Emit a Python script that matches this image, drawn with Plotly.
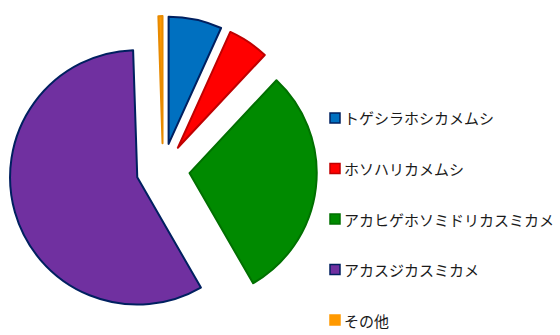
import plotly.graph_objects as go

# Species counts
labels = ["トゲシラホシカメムシ", "ホソハリカメムシ", "アカヒゲホソミドリカスミカメ", "アカスジカスミカメ", "その他"]
counts = [13, 10, 57, 111, 1]
fill_colors = ["#0070C0", "#FF0000", "#008A00", "#7030A0", "#FF9900"]
edge_colors = ["#002060", "#C00000", "#007000", "#002060", "#E88A00"]

fig = go.Figure(
    go.Pie(
        labels=labels,
        values=counts,
        sort=False,
        direction="clockwise",
        rotation=0,
        pull=[0.21] * len(counts),
        textinfo="none",
        hoverinfo="label+value+percent",
        marker=dict(colors=fill_colors, line=dict(color=edge_colors, width=2)),
        domain=dict(x=[0.016, 0.566], y=[0.033, 0.952]),
        showlegend=False,
    )
)

# Legend drawn as colour swatches with text labels
font_family = "Noto Sans CJK JP"
top_y, step = 118, 50.5
shapes, annotations = [], []
for i, (lab, fc, ec) in enumerate(zip(labels, fill_colors, edge_colors)):
    cy = top_y + i * step
    shapes.append(dict(
        type="rect", xref="paper", yref="paper",
        x0=330 / 560, x1=340 / 560,
        y0=1 - (cy + 5) / 335, y1=1 - (cy - 5) / 335,
        fillcolor=fc, line=dict(color=ec if i != 4 else fc, width=1.5),
    ))
    annotations.append(dict(
        text=lab, xref="paper", yref="paper",
        x=342 / 560, y=1 - cy / 335,
        xanchor="left", yanchor="middle", showarrow=False,
        font=dict(family=font_family, size=15, color="#1a1a1a"),
    ))

fig.update_layout(
    width=560, height=335,
    margin=dict(l=0, r=0, t=0, b=0),
    paper_bgcolor="white", plot_bgcolor="white",
    shapes=shapes, annotations=annotations,
    font=dict(family=font_family),
)

fig.write_html("out.html")
